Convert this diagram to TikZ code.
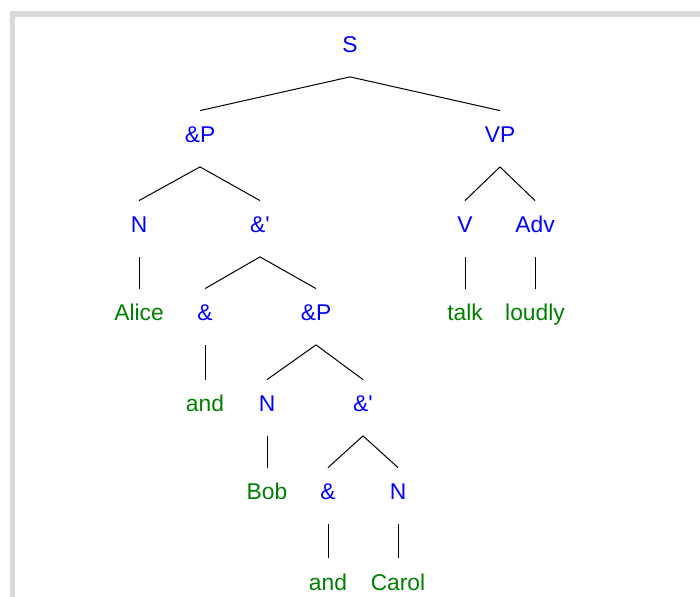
\documentclass[tikz,border=0pt]{standalone}
\usepackage{fontspec}
\setmainfont{Liberation Sans}
\usepackage{tikz}
\usetikzlibrary{positioning}

\begin{document}
\begin{tikzpicture}[
      x=0.5pt, y=-0.5pt,
      every node/.style={font=\fontsize{11.4pt}{13pt}\selectfont},
      cat/.style={anchor=base,inner sep=0pt,text height=16pt,text depth=11.75pt,text=blue},
      word/.style={cat,text=green!50!black},
      branch/.style={draw=black,line width=0.5pt},
      panel/.style={fill=black!15}
  ]

  % ===================== frame =====================
  \useasboundingbox (0,0) rectangle (700,597);
  \fill[panel] (10,11) rectangle (700,597);
  \fill[white] (15,16.7) rectangle (700,597);

  % ===================== categories =====================
  \node[cat] (s) at (350,53) {S};

  \node[cat] (andp) at (200,143) {\&P};
  \node[cat] (vp) at (500,143) {VP};

  \node[cat] (n1) at (139,233) {N};
  \node[cat] (andbar) at (260,233) {\&\textquotesingle};
  \node[cat] (v) at (465,233) {V};
  \node[cat] (adv) at (535,233) {Adv};

  \node[word] (alice) at (139,321) {Alice};
  \node[cat] (conj1) at (205,321) {\&};
  \node[cat] (andp2) at (316,321) {\&P};
  \node[word] (talk) at (465,321) {talk};
  \node[word] (loudly) at (535,321) {loudly};

  \node[word] (and1) at (205,412) {and};
  \node[cat] (n2) at (267,412) {N};
  \node[cat] (andbar2) at (363,412) {\&\textquotesingle};

  \node[word] (bob) at (267,500) {Bob};
  \node[cat] (conj2) at (328,500) {\&};
  \node[cat] (n3) at (398,500) {N};

  \node[word] (and2) at (328,590) {and};
  \node[word] (carol) at (398,590) {Carol};

  % ===================== branches =====================
  \draw[branch] (s.south) -- (andp.north);
  \draw[branch] (s.south) -- (vp.north);

  \draw[branch] (andp.south) -- (n1.north);
  \draw[branch] (andp.south) -- (andbar.north);
  \draw[branch] (vp.south) -- (v.north);
  \draw[branch] (vp.south) -- (adv.north);

  \draw[branch] (n1.south) -- (alice.north);
  \draw[branch] (andbar.south) -- (conj1.north);
  \draw[branch] (andbar.south) -- (andp2.north);
  \draw[branch] (v.south) -- (talk.north);
  \draw[branch] (adv.south) -- (loudly.north);

  \draw[branch] (conj1.south) -- (and1.north);
  \draw[branch] (andp2.south) -- (n2.north);
  \draw[branch] (andp2.south) -- (andbar2.north);

  \draw[branch] (n2.south) -- (bob.north);
  \draw[branch] (andbar2.south) -- (conj2.north);
  \draw[branch] (andbar2.south) -- (n3.north);

  \draw[branch] (conj2.south) -- (and2.north);
  \draw[branch] (n3.south) -- (carol.north);

\end{tikzpicture}
\end{document}
